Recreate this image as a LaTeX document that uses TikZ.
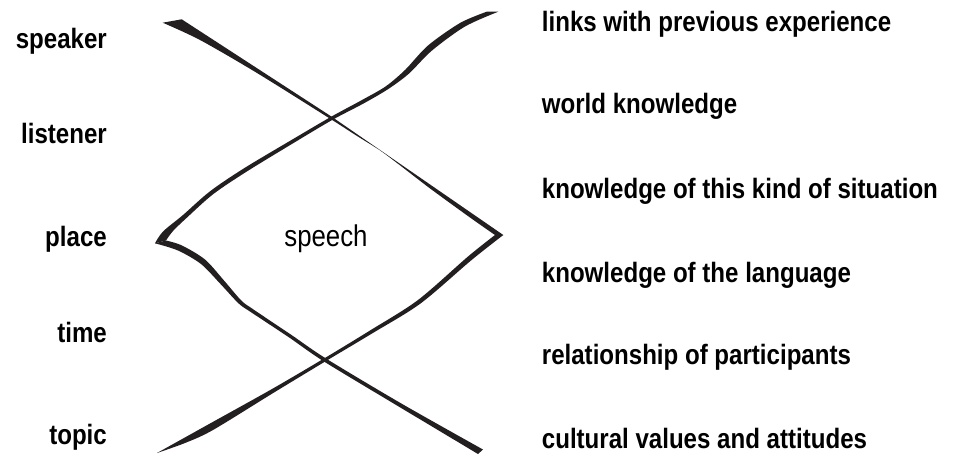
\documentclass[tikz,border=0pt]{standalone}
\usepackage{fontspec}
\setmainfont{Liberation Sans}[FakeStretch=0.86]
\definecolor{ink}{RGB}{35,31,32}
\begin{document}
\begin{tikzpicture}[x=1pt,y=-1pt,
  leftlbl/.style={anchor=base east,inner sep=0pt,font=\bfseries\fontsize{28}{32}\selectfont},
  rightlbl/.style={anchor=base west,inner sep=0pt,font=\bfseries\fontsize{28}{32}\selectfont},
  centrelbl/.style={anchor=base,inner sep=0pt,font=\fontsize{30}{34}\selectfont},
  brush/.style={fill=ink}]
\useasboundingbox (0,0) rectangle (957,456);

% first brush stroke: top-left tip down to the right corner
\fill[brush] (162.7,22.7) -- (181.7,19.3) -- (331.7,116.7) -- (503.3,235)
  -- plot[smooth] coordinates {(495,235) (470,217.5) (430,188.4) (400,165.3)
     (380,150.4) (355,134.7) (332,119.9) (257,73) (200,40) (162.7,22.7)} -- cycle;
% first brush stroke: right corner down to the bottom-left tip
\fill[brush] plot[smooth] coordinates {(495,235) (468,256.5) (418,300) (370,330.5)
     (324,358.5) (272,389) (210,423.5) (157,453)}
  -- plot[smooth] coordinates {(157,453) (185,443) (213,430) (274,392.5) (326,361)
     (372,333.5) (420.5,303.5) (471,260.5) (503.3,235)} -- cycle;

% second brush stroke: top-right tip down to the left corner
\fill[brush] plot[smooth] coordinates {(486.7,11.7) (460,23) (428,45.5) (405,70)
     (385.5,86.5) (362,100) (331,116.8) (294,138.5) (244,168.3) (210,191.3)
     (183,215) (163,231.5) (155,243.3)}
  -- plot[smooth] coordinates {(166,240.5) (173,231) (186.5,218) (213,194.3)
     (246.5,171.7) (296,141.5) (332.5,119.8) (363.5,103.5) (387.5,89.5)
     (408.5,74) (432,50.5) (465,26.5) (498.3,11.7)} -- cycle;
% second brush stroke: left corner down to the bottom-right tip
\fill[brush] plot[smooth] coordinates {(166,240.5) (182,245.5) (205,259.5)
     (224,280.5) (241.3,300.5) (253.5,309.5) (290.8,334.5) (326,358.5)
     (401,403.3) (483,449.5)}
  -- plot[smooth] coordinates {(478,454) (399,406.7) (324,361.5) (289.2,337.5)
     (251.5,312.5) (238.7,303.5) (220.5,284) (201,264) (178,250.5) (155,243.3)} -- cycle;

% left column
\node[leftlbl] (speaker)  at (107,48.3) {speaker};
\node[leftlbl] (listener) at (107,143)  {listener};
\node[leftlbl] (place)    at (107,246)  {place};
\node[leftlbl] (time)     at (107,342)  {time};
\node[leftlbl] (topic)    at (107,444)  {topic};

% centre
\node[centrelbl] (speech) at (326,246) {speech};

% right column
\node[rightlbl] (links)     at (541.7,31.7)  {links with previous experience};
\node[rightlbl] (world)     at (541.7,113.3) {world knowledge};
\node[rightlbl] (situation) at (541.7,198.5) {knowledge of this kind of situation};
\node[rightlbl] (language)  at (541.7,282)   {knowledge of the language};
\node[rightlbl] (relations) at (541.7,364.5) {relationship of participants};
\node[rightlbl] (culture)   at (541.7,448)   {cultural values and attitudes};
\end{tikzpicture}
\end{document}
